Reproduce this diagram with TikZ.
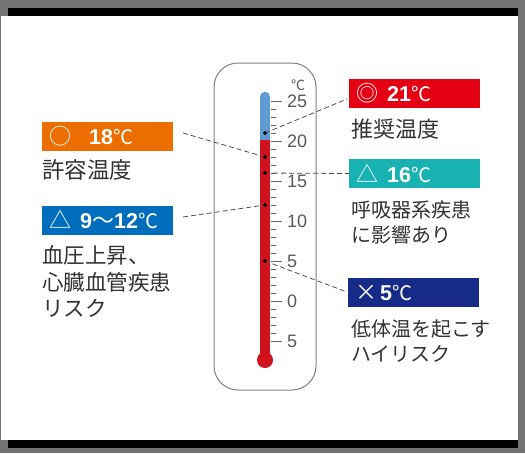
\documentclass[tikz,border=0pt]{standalone}
\usepackage{fontspec}
\setmainfont{Liberation Sans}
\newfontfamily\jp{Noto Sans CJK JP}
\usepackage{xcolor}
\definecolor{framegray}{RGB}{115,115,115}
\definecolor{tagorange}{RGB}{236,110,0}
\definecolor{tagred}{RGB}{228,0,18}
\definecolor{tagteal}{RGB}{24,178,178}
\definecolor{tagblue}{RGB}{0,110,188}
\definecolor{tagnavy}{RGB}{22,42,135}
\definecolor{mercury}{RGB}{208,18,28}
\definecolor{coldblue}{RGB}{95,155,210}
\definecolor{ink}{RGB}{50,50,50}
\usetikzlibrary{positioning}
\newcommand{\degc}{{\jp\mdseries\fontsize{20}{20}\selectfont ℃}}
\newcommand{\tagsym}[1]{{\jp\mdseries\fontsize{22}{22}\selectfont #1}}

\begin{document}
\begin{tikzpicture}[x=1pt, y=-1pt,
    tag/.style={anchor=west, minimum height=29pt, text width=117pt, inner xsep=7pt, inner ysep=0pt,
                align=left, text=white, font=\fontsize{21.5}{21.5}\selectfont\bfseries},
    note/.style={inner sep=0pt, align=left, text=ink, font=\jp\fontsize{21.5}{26.5}\selectfont},
    small note/.style={note, font=\jp\fontsize{20}{25.5}\selectfont},
    dot/.style={circle, fill=black, inner sep=0pt, minimum size=3.6pt},
    lead/.style={draw=black!70, line width=0.8pt, dash pattern=on 5pt off 3pt},
    tick/.style={draw=black!60, line width=0.8pt},
    scalelab/.style={anchor=west, inner sep=0pt, text=black!65, font=\fontsize{18}{18}\selectfont}]

    % frame
    \fill[framegray] (0,0) rectangle (525,453);
    \fill[white] (1,16) rectangle (518,440);
    \fill[black] (8,8) rectangle (518,16);
    \fill[black] (8,440) rectangle (518,448);

    % thermometer body
    \draw[black!50, line width=1pt, fill=white, rounded corners=24pt] (214,63) rectangle (316,390);
    \draw[coldblue, line width=10.5pt, line cap=round] (265,97) -- (265,140);
    \draw[mercury, line width=10.5pt] (265,140) -- (265,358);
    \fill[mercury] (265,360) circle (8);

    % scale
    \foreach \t in {-5,...,25}
        \draw[tick] (271,{301-8*\t}) -- ++(5,0);
    \foreach \t/\lab in {25/25,20/20,15/15,10/10,5/5,0/0,-5/5} {
        \draw[tick] (271,{301-8*\t}) -- ++(11,0);
        \node[scalelab] (sc\t) at (287,{301-8*\t}) {\lab};
    }
    \node[inner sep=0pt, text=black!65, font=\jp\fontsize{14}{14}\selectfont] (unit) at (298,85) {℃};

    % tags
    \node[tag, fill=tagorange] (b18) at (42,136) {\tagsym{○}\hspace{18pt}18\degc};
    \node[tag, fill=tagblue] (b12) at (42,220) {\tagsym{△}\hspace{9pt}9\tagsym{〜}12\degc};
    \node[tag, fill=tagred] (b21) at (349,93.5) {\tagsym{◎}\hspace{9pt}21\degc};
    \node[tag, fill=tagteal] (b16) at (349,173.5) {\tagsym{△}\hspace{9pt}16\degc};
    \node[tag, fill=tagnavy] (b5) at (348,292.5) {\tagsym{×}\hspace{3pt}5\degc};

    % notes
    \node[note, below=8.5pt of b18.south west, anchor=north west, xshift=0pt, font=\jp\fontsize{22.5}{22.5}\selectfont] (n18) {許容温度};
    \node[note, below=11pt of b12.south west, anchor=north west, xshift=0pt] (n12) {血圧上昇、\\心臓血管疾患\\リスク};
    \node[note, below=11pt of b21.south west, anchor=north west, xshift=2pt, font=\jp\fontsize{22}{22}\selectfont] (n21) {推奨温度};
    \node[small note, below=12pt of b16.south west, anchor=north west, xshift=2pt] (n16) {呼吸器系疾患\\に影響あり};
    \node[small note, below=12pt of b5.south west, anchor=north west, xshift=3pt] (n5) {低体温を起こす\\ハイリスク};

    % leader ends
    \coordinate (e21) at (347,99);
    \coordinate (e18) at (183,133);
    \coordinate (e12) at (183,217);
    \coordinate (e5) at (347,292);

    % temperature points
    \node[dot] (t21) at (265,133) {};
    \node[dot] (t18) at (265,157) {};
    \node[dot] (t16) at (265,173) {};
    \node[dot] (t12) at (265,205) {};
    \node[dot] (t5) at (265,261) {};

    % leaders
    \draw[lead] (t21.center) -- (e21);
    \draw[lead] (e18) -- (t18.center);
    \draw[lead] (t16.center) -- (b16.west);
    \draw[lead] (e12) -- (t12.center);
    \draw[lead] (t5.center) -- (e5);
    \foreach \p in {t21,t18,t16,t12,t5}
        \fill (\p) circle (1.8);
\end{tikzpicture}
\end{document}
